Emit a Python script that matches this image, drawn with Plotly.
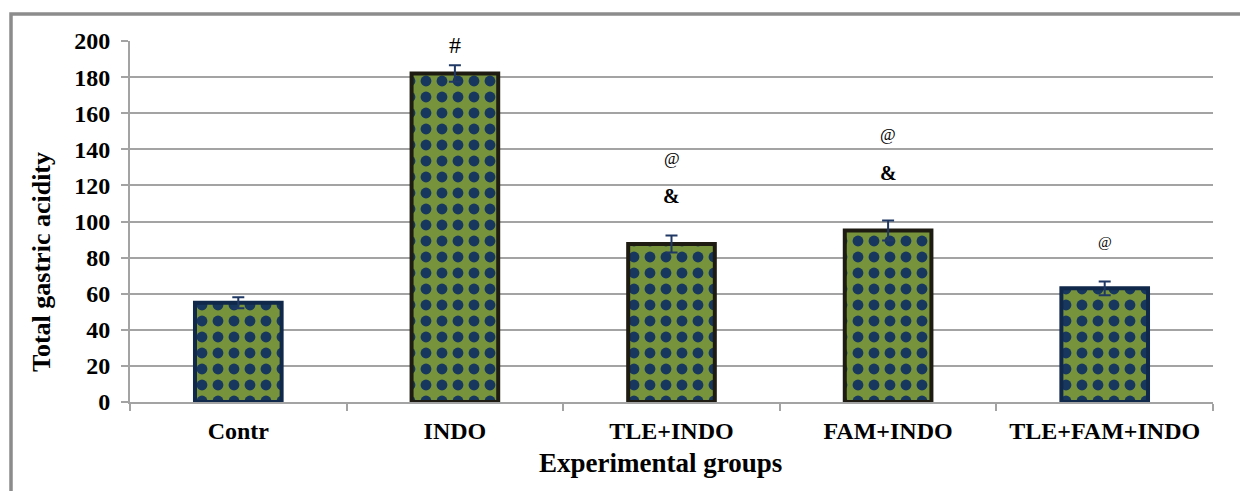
import plotly.graph_objects as go

groups = ["Contr", "INDO", "TLE+INDO", "FAM+INDO", "TLE+FAM+INDO"]
acidity = [55, 182, 87.5, 95, 63]
sem = [3, 4.6, 4.7, 5.5, 3.8]
border_colors = ["#10294a", "#1e1c12", "#1e1c12", "#1e1c12", "#10294a"]

# significance marks: (group, y, text, size, bold)
marks = [
    ("INDO", 198, "#", 24, False),
    ("TLE+INDO", 135, "@", 17, False),
    ("TLE+INDO", 114, "&", 20, True),
    ("FAM+INDO", 148, "@", 17, False),
    ("FAM+INDO", 127, "&", 20, True),
    ("TLE+FAM+INDO", 88.5, "@", 15, False),
]
y_ticks = [0, 20, 40, 60, 80, 100, 120, 140, 160, 180, 200]

FONT = "Liberation Serif, Times New Roman, serif"
GRID = "#a3a3a3"

fig = go.Figure()
fig.add_trace(go.Bar(
    x=groups, y=acidity,
    width=0.4,
    marker=dict(
        color="#77933C",
        line=dict(color=border_colors, width=4),
        pattern=dict(shape=".", fgcolor="#17375E", fgopacity=1,
                     size=16, solidity=0.36, fillmode="overlay"),
    ),
    error_y=dict(type="data", array=sem, visible=True,
                 color="#1f3864", thickness=2, width=6),
    showlegend=False,
))

for g, yv, txt, sz, bold in marks:
    fig.add_annotation(
        x=g, y=yv, xref="x", yref="y", showarrow=False,
        text=txt,
        font=dict(family=FONT, size=sz, color="black",
                  weight="bold" if bold else "normal"),
    )

fig.add_annotation(
    x=(42 - 130) / 1083, y=(402 - 262) / 361, xref="paper", yref="paper",
    text="Total gastric acidity", textangle=-90, showarrow=False,
    xanchor="center", yanchor="middle",
    font=dict(family=FONT, size=26, color="black", weight="bold"),
)
fig.add_annotation(
    x=0.490, y=(402 - 463) / 361, xref="paper", yref="paper",
    text="Experimental groups", showarrow=False,
    xanchor="center", yanchor="middle",
    font=dict(family=FONT, size=27, color="black", weight="bold"),
)

# outer chart frame (cut at right and bottom)
fig.add_shape(type="path", xref="paper", yref="paper",
              path=f"M {(11-130)/1083},-0.4 L {(11-130)/1083},{(402-14)/361} L 1.2,{(402-14)/361}",
              line=dict(color="#8c8c8c", width=3.5), layer="above")

# page body has an 8px margin, so figure margins are reduced by 8
fig.update_layout(
    width=1248, height=491,
    margin=dict(l=122, r=43, t=33, b=97),
    paper_bgcolor="white", plot_bgcolor="white",
    bargap=0.6,
    font=dict(family=FONT, color="black"),
)
fig.update_xaxes(
    showline=True, linecolor=GRID, linewidth=2,
    ticks="outside", tickson="boundaries", ticklen=7, tickcolor=GRID, tickwidth=2,
    tickfont=dict(family=FONT, size=24, color="black", weight="bold"),
    ticklabelstandoff=6,
    showgrid=False,
)
fig.update_yaxes(
    range=[0, 200], tickvals=y_ticks,
    showline=True, linecolor=GRID, linewidth=2,
    ticks="outside", ticklen=7, tickcolor=GRID, tickwidth=2,
    showgrid=True, gridcolor=GRID, gridwidth=2,
    tickfont=dict(family=FONT, size=24, color="black", weight="bold"),
    ticklabelstandoff=6,
    zeroline=False,
)

fig.write_html("out.html")
